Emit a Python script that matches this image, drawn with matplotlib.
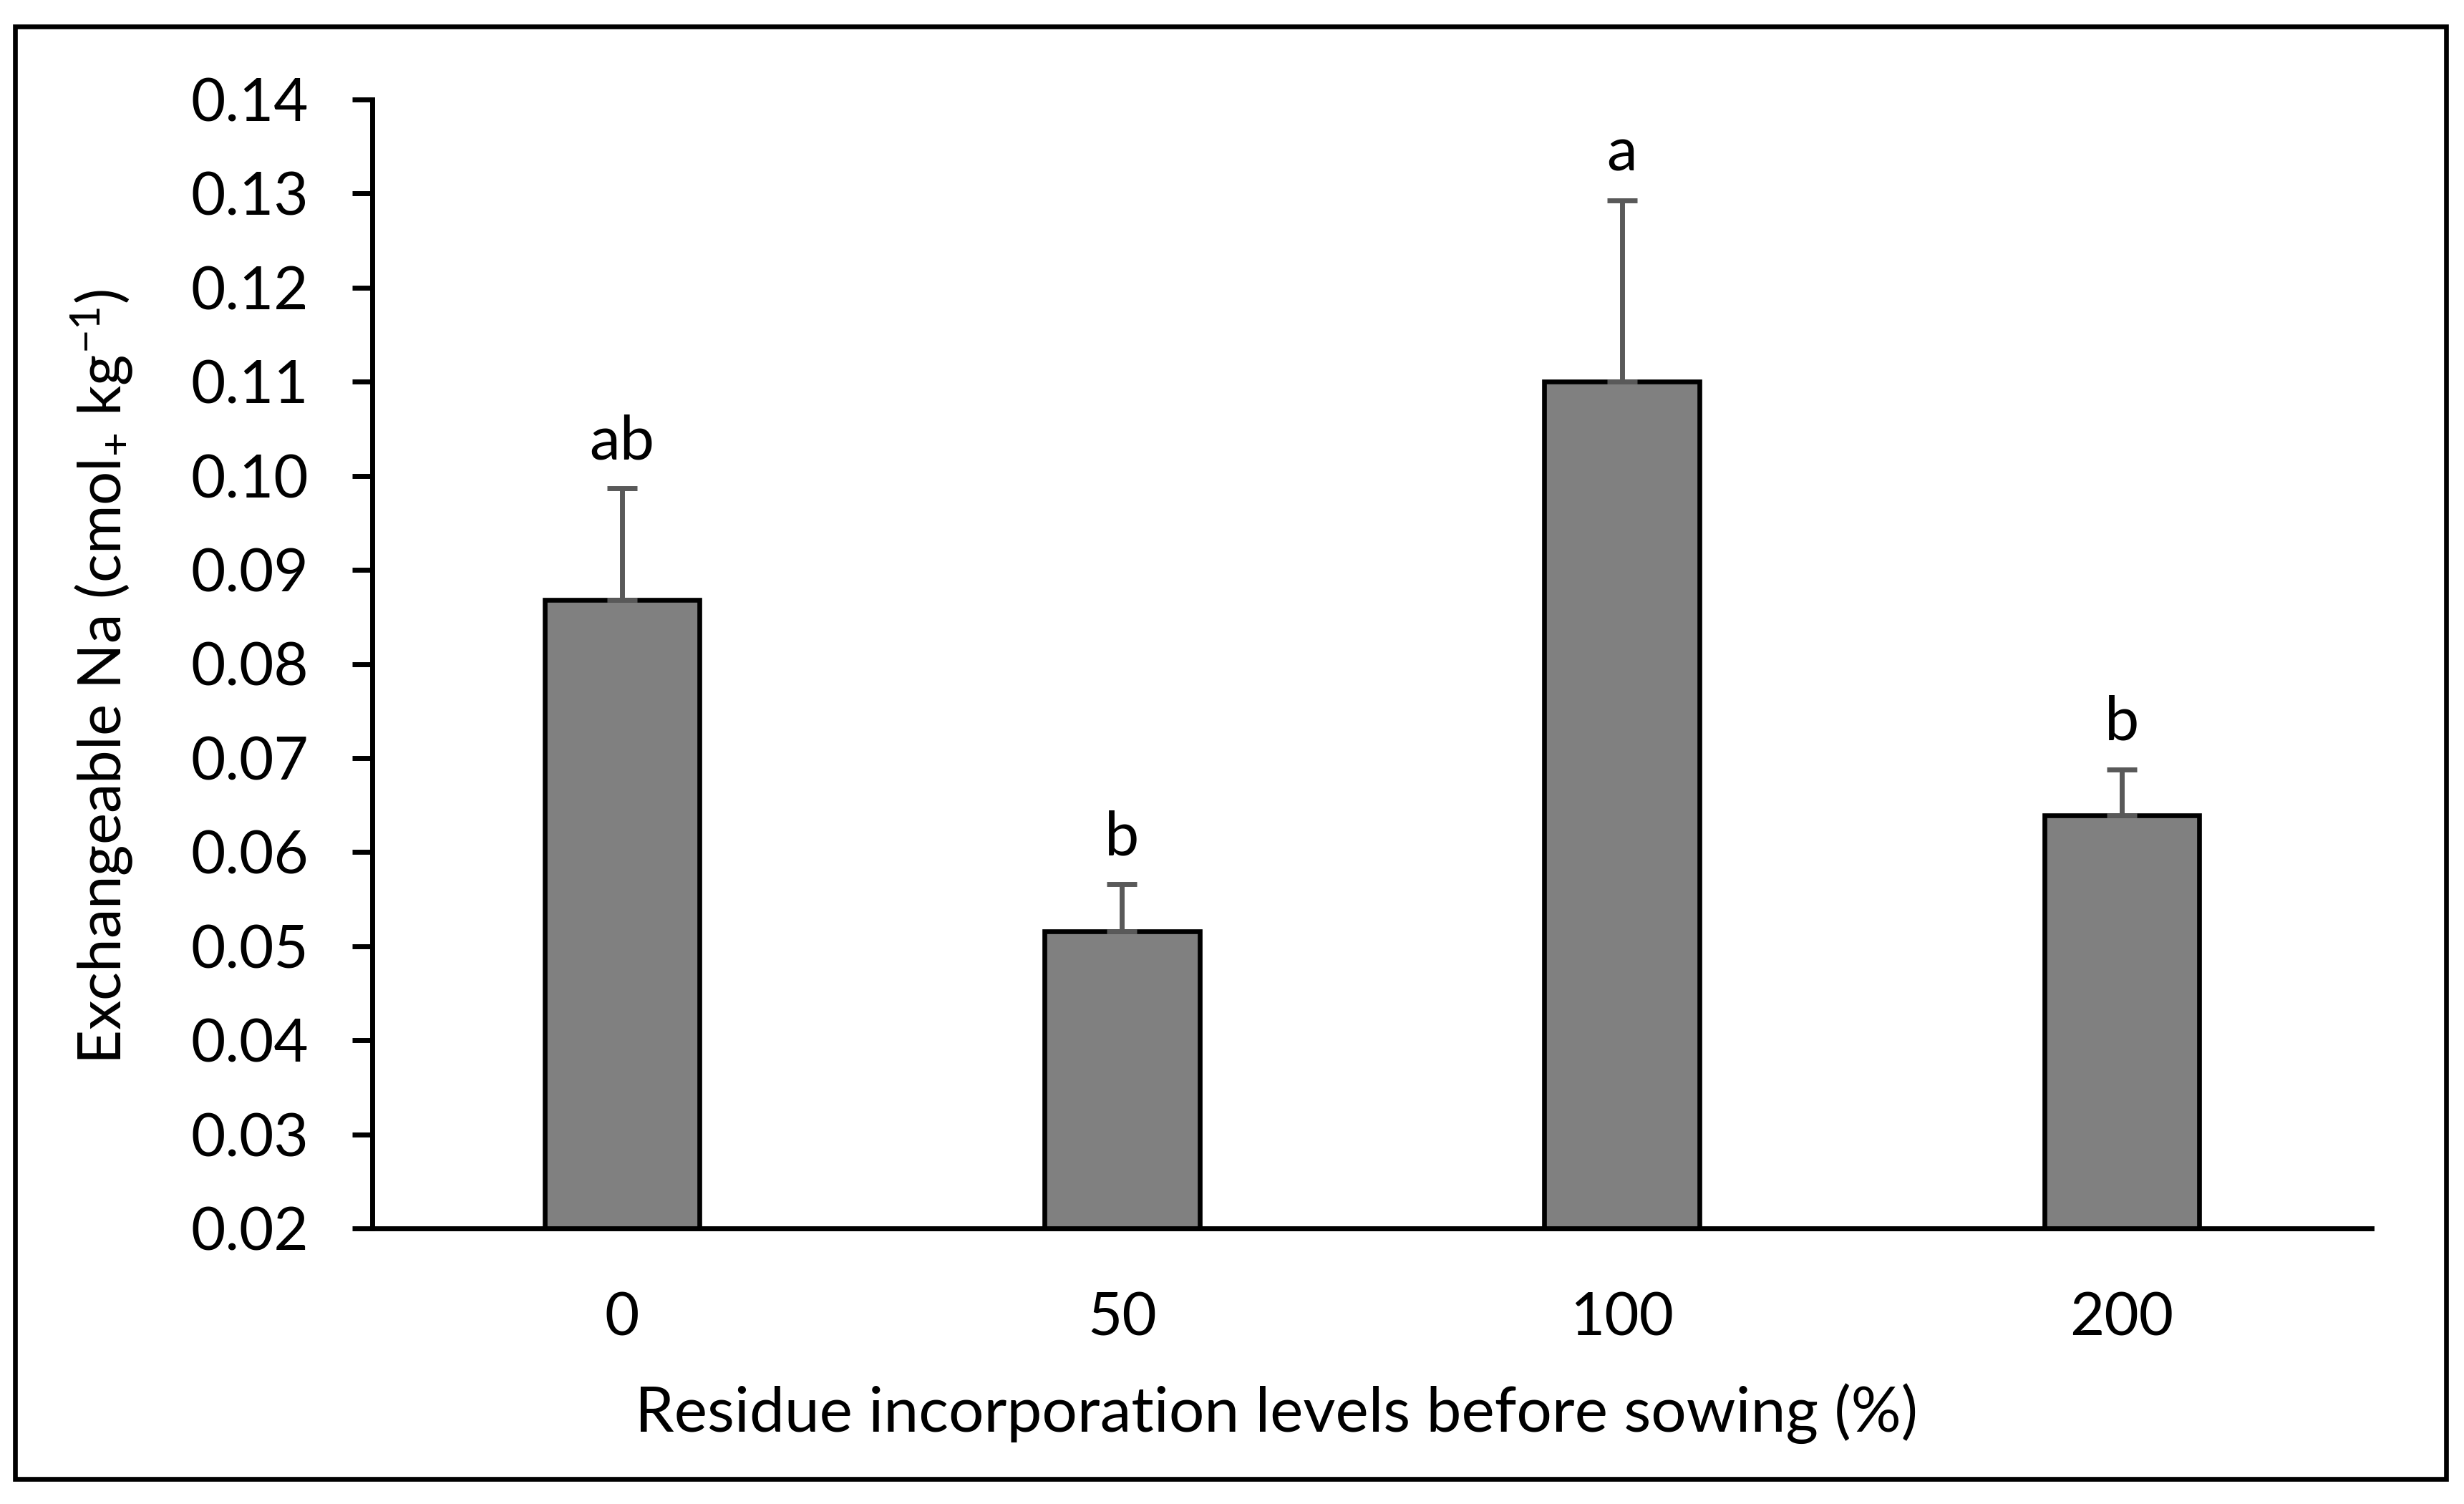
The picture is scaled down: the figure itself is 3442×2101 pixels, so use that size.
import numpy as np
import matplotlib
matplotlib.use('Agg')
from matplotlib import pyplot as plt
from matplotlib.patches import Rectangle

plt.rcParams['font.family'] = ['Lato', 'DejaVu Sans']
plt.rcParams['mathtext.fontset'] = 'custom'
plt.rcParams['mathtext.rm'] = 'Lato'
plt.rcParams['mathtext.it'] = 'Lato:italic'
plt.rcParams['mathtext.bf'] = 'Lato:bold'

# data
levels = ['0', '50', '100', '200']
na_mean = [0.0868, 0.0516, 0.1100, 0.0639]
na_err = [0.0119, 0.0050, 0.0193, 0.0049]
letters = ['ab', 'b', 'a', 'b']
yticks = [0.02, 0.03, 0.04, 0.05, 0.06, 0.07, 0.08, 0.09, 0.10, 0.11, 0.12, 0.13, 0.14]

W, H = 3442, 2101
fig = plt.figure(figsize=(W / 200, H / 200), dpi=200)

# outer frame around the whole chart
fig.patches.append(Rectangle((21 / W, 1 - 2066 / H), (3417 - 21) / W, (2066 - 37) / H,
                             transform=fig.transFigure, fill=False, lw=2.4, ec='black'))

ax = fig.add_axes([520 / W, 385 / H, (3313 - 520) / W, (1716 - 139) / H])

x = np.arange(len(levels))
ax.bar(x, na_mean, width=0.31, color='#808080', edgecolor='black', linewidth=2.4, zorder=2)
ax.errorbar(x, na_mean, yerr=[np.zeros(len(x)), na_err], fmt='none', ecolor='#595959',
            elinewidth=2.5, capsize=7.6, capthick=2.5, zorder=3)
for i in range(len(x)):
    ax.text(x[i], na_mean[i] + na_err[i] + 0.0031, letters[i], ha='center', va='baseline',
            fontsize=31)

ax.set_xlim(-0.5, 3.5)
ax.set_ylim(0.02, 0.14)
ax.set_yticks(yticks)
ax.set_yticklabels(['%.2f' % v for v in yticks])
ax.set_xticks(x)
ax.set_xticklabels(levels)

for s in ['top', 'right']:
    ax.spines[s].set_visible(False)
for s in ['left', 'bottom']:
    ax.spines[s].set_linewidth(2.5)
ax.tick_params(axis='y', length=10, width=2.5, pad=22, labelsize=30)
ax.tick_params(axis='x', length=0, pad=32, labelsize=30)

fig.text(1783 / W, 1 - 2000 / H, 'Residue incorporation levels before sowing (%)',
         ha='center', va='baseline', fontsize=31.5)
fig.text(143 / W, 1 - 945 / H, r'Exchangeable Na (cmol$_{+}$ kg$^{-1}$)',
         rotation=90, ha='center', va='center', fontsize=30)

fig.savefig('out.png', dpi=200)
